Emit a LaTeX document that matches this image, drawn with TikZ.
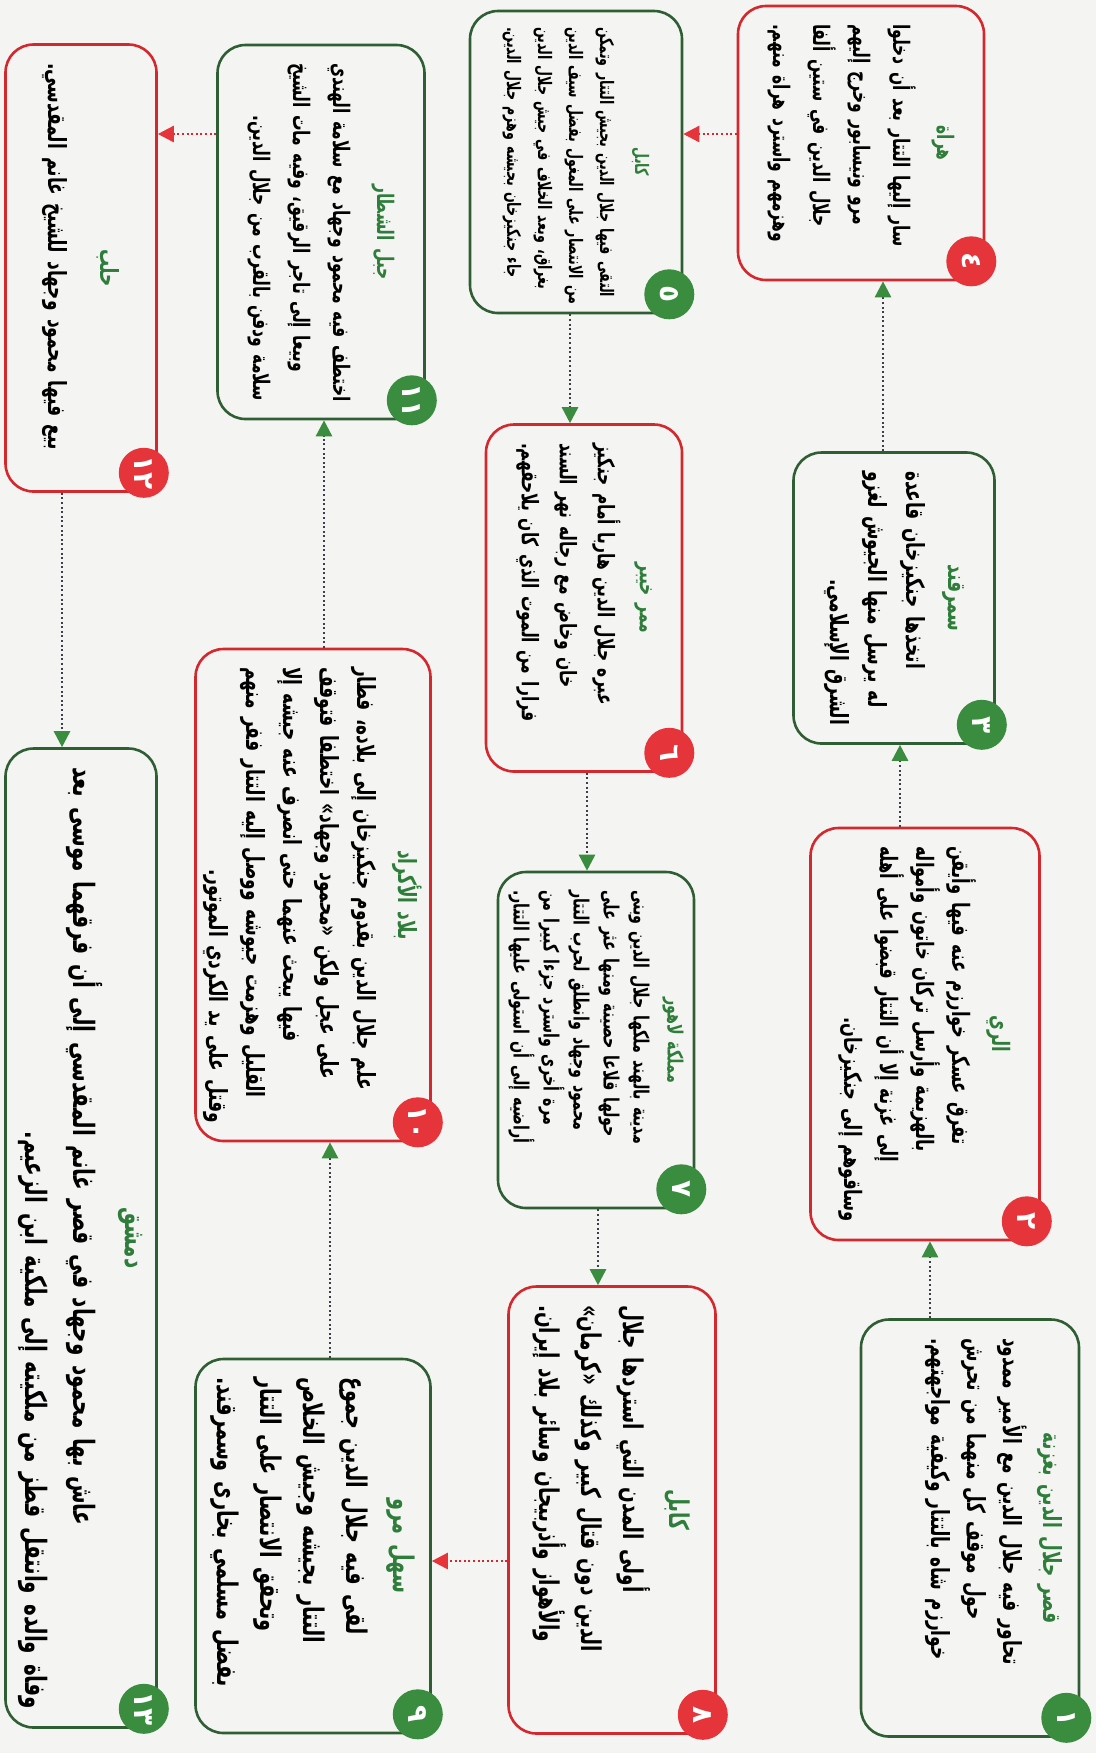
\documentclass[tikz,border=0pt]{standalone}
\usepackage{fontspec}
\usetikzlibrary{arrows.meta,calc}
\TeXXeTstate=1
\newfontfamily\arabicfont[Script=Arabic,FakeStretch=0.68]{DejaVu Sans}
\newfontfamily\numfont[Script=Arabic]{DejaVu Sans}
\definecolor{bordergreen}{HTML}{2F5E34}
\definecolor{borderred}{HTML}{D3282E}
\definecolor{fillgreen}{HTML}{3A8C3F}
\definecolor{fillred}{HTML}{E5343A}
\definecolor{titlegreen}{HTML}{2E7D3A}
\definecolor{dotgray}{HTML}{3C4048}
\definecolor{pagebg}{HTML}{F4F4F2}
\newcommand{\fs}[2]{\arabicfont\bfseries\fontsize{#1}{#2}\selectfont\spaceskip=.3em plus 4em minus .12em\relax}
\newcommand{\TT}[1]{\hbox to\hsize{\hfil\color{titlegreen}\beginR #1\endR\hfil}\vskip 2pt}
\newcommand{\JL}[1]{\hbox to\hsize{\beginR #1\endR}}
\newcommand{\LL}[1]{\hbox to\hsize{\hfil\beginR #1\endR}}
\newcommand{\BotSpace}[1]{\vskip #1\hrule height 0pt width 0pt}
\tikzset{
 box/.style={draw, rounded corners=14pt, rotate=-90, line width=1.3pt, inner sep=0pt},
 gbox/.style={box, draw=bordergreen},
 rbox/.style={box, draw=borderred},
 num/.style={circle, rotate=-90, minimum size=25pt, inner sep=0pt, text=white, font=\numfont\bfseries\fontsize{14}{14}\selectfont},
 gnum/.style={num, fill=fillgreen},
 rnum/.style={num, fill=fillred},
 vlink/.style={dotgray, line width=1.3pt, dash pattern=on 1pt off 1.3pt, -{Triangle[length=8pt,width=8pt,color=fillgreen]}},
 hlink/.style={borderred, line width=1.3pt, dash pattern=on 1pt off 1.3pt, -{Triangle[length=8pt,width=8pt,color=fillred]}}
}
\begin{document}
\begin{tikzpicture}[x=0.5pt,y=-0.5pt]
\fill[pagebg] (0,0) rectangle (1096,1753);
\useasboundingbox (0,0) rectangle (1096,1753);

% column 1
\node[gbox, minimum width=208.5pt, minimum height=109pt, text width=190pt, font=\fs{12.5}{18}] (B1) at (970,1528) {%
\TT{قصر جلال الدين بغزنة}
\JL{تحاور فيه جلال الدين مع الأمير ممدود}
\JL{حول موقف كل منهما من تحرش}
\JL{خوارزم شاه بالتتار وكيفية مواجهتهم.}
\BotSpace{24pt}};
\node[rbox, minimum width=206pt, minimum height=114.5pt, text width=188pt, font=\fs{12}{18}] (B2) at (925,1034) {%
\TT{الري}
\JL{تفرق عسكر خوارزم عنه فيها وأيقن}
\JL{بالهزيمة وأرسل تركان خاتون وأمواله}
\JL{إلى غزنة إلا أن التتار قبضوا على أهله}
\LL{وساقوهم إلى جنكيزخان.}};
\node[gbox, minimum width=145.5pt, minimum height=100.5pt, text width=127pt, font=\fs{12.5}{19}] (B3) at (894,598) {%
\TT{سمرقند}
\JL{اتخذها جنكيزخان قاعدة}
\JL{له يرسل منها الجيوش لغزو}
\LL{الشرق الإسلامي.}};
\node[rbox, minimum width=137pt, minimum height=123pt, text width=119pt, font=\fs{11.4}{20}] (B4) at (861,143) {%
\TT{هراة}
\JL{سار إليها التتار بعد أن دخلوا}
\JL{مرو ونيسابور وخرج إليهم}
\JL{جلال الدين في ستين ألفا}
\JL{وهزمهم واسترد هراة منهم.}};

% column 2
\node[gbox, minimum width=151pt, minimum height=106pt, text width=135pt, font=\fs{9.3}{15.5}] (B5) at (576,162) {%
\TT{كابل}
\JL{التقى فيها جلال الدين بجيش التتار وتمكن}
\JL{من الانتصار على المغول بفضل سيف الدين}
\JL{بغراق، وبعد الخلاف في جيش جلال الدين}
\JL{جاء جنكيزخان بجيشه وهزم جلال الدين.}};
\node[rbox, minimum width=173.5pt, minimum height=98pt, text width=155pt, font=\fs{11.4}{19}] (B6) at (584,598) {%
\TT{ممر خيبر}
\JL{عبره جلال الدين هاربا أمام جنكيز}
\JL{خان وخاض مع رجاله نهر السند}
\JL{فرارا من الموت الذي كان يلاحقهم.}};
\node[gbox, minimum width=168pt, minimum height=98pt, text width=150pt, font=\fs{10.5}{15}] (B7) at (596,1040) {%
\TT{مملكة لاهور}
\JL{مدينة بالهند ملكها جلال الدين وبنى}
\JL{حولها قلاعا حصينة ومنها عثر على}
\JL{محمود وجهاد وانطلق لحرب التتار}
\JL{مرة أخرى واسترد جزءا كبيرا من}
\JL{أراضيه إلى أن استولى عليها التتار.}};
\node[rbox, minimum width=223.5pt, minimum height=103.5pt, text width=205pt, font=\fs{13.6}{21}] (B8) at (612,1510) {%
\TT{كابل}
\JL{أولى المدن التي استردها جلال}
\JL{الدين دون قتال كبير وكذلك «كرمان»}
\JL{والأهواز وأذربيجان وسائر بلاد إيران.}};

% column 3
\node[gbox, minimum width=187pt, minimum height=117.5pt, text width=169pt, font=\fs{14.2}{21.5}] (B9) at (313,1546) {%
\TT{سهل مرو}
\JL{لقى فيه جلال الدين جموع}
\JL{التتار بجيشه وجيش الخلاص}
\JL{وتحقق الانتصار على التتار}
\JL{بفضل مسلمي بخارى وسمرقند.}};
\node[rbox, minimum width=246pt, minimum height=117.5pt, text width=228pt, font=\fs{12.5}{18.5}] (B10) at (313,895) {%
\TT{بلاد الأكراد}
\JL{علم جلال الدين بقدوم جنكيزخان إلى بلاده، فطار}
\JL{على عجل ولكن «محمود وجهاد» اختطفا فتوقف}
\JL{فيها يبحث عنهما حتى انصرف عنه جيشه إلا}
\JL{القليل وهزمت جيوشه ووصل إليه التتار ففر منهم}
\LL{وقتل على يد الكردي الموتور.}};
\node[gbox, minimum width=187pt, minimum height=103.5pt, text width=169pt, font=\fs{11.4}{20}] (B11) at (321,232) {%
\TT{جبل الشطار}
\JL{اختطف فيه محمود وجهاد مع سلامة الهندي}
\JL{وبيعا إلى تاجر الرقيق، وفيه مات الشيخ}
\LL{سلامة ودفن بالقرب من جلال الدين.}};

% column 4
\node[rbox, minimum width=223.5pt, minimum height=75.5pt, text width=205pt, font=\fs{12.5}{24}] (B12) at (81,268) {%
\TT{حلب}
\JL{بيع فيها محمود وجهاد للشيخ غانم المقدسي.}};
\node[gbox, minimum width=489.5pt, minimum height=75.5pt, text width=471pt, font=\fs{14.7}{24}] (B13) at (81,1238) {%
\TT{دمشق}
\JL{عاش بها محمود وجهاد في قصر غانم المقدسي إلى أن فرقهما موسى بعد}
\LL{وفاة والده وانتقل قطز من ملكيته إلى ملكية ابن الزعيم.}};

% number circles
\node[gnum] (N1) at ($(B1.north east)+(-14,-20)$) {١};
\node[rnum] (N2) at ($(B2.north east)+(-14,-20)$) {٢};
\node[gnum] (N3) at ($(B3.north east)+(-14,-20)$) {٣};
\node[rnum] (N4) at ($(B4.north east)+(-14,-20)$) {٤};
\node[gnum] (N5) at ($(B5.north east)+(-14,-20)$) {٥};
\node[rnum] (N6) at ($(B6.north east)+(-14,-20)$) {٦};
\node[gnum] (N7) at ($(B7.north east)+(-14,-20)$) {٧};
\node[rnum] (N8) at ($(B8.north east)+(-14,-20)$) {٨};
\node[gnum] (N9) at ($(B9.north east)+(-14,-20)$) {٩};
\node[rnum] (N10) at ($(B10.north east)+(-14,-20)$) {١٠};
\node[gnum] (N11) at ($(B11.north east)+(-14,-20)$) {١١};
\node[rnum] (N12) at ($(B12.north east)+(-14,-20)$) {١٢};
\node[gnum] (N13) at ($(B13.north east)+(-14,-20)$) {١٣};

% connector guide coordinates
\coordinate (v12) at (930,0);
\coordinate (v23) at (900,0);
\coordinate (v34) at (883,0);
\coordinate (h45) at (0,134);
\coordinate (v56) at (570,0);
\coordinate (v67) at (587,0);
\coordinate (v78) at (598,0);
\coordinate (h89) at (0,1561);
\coordinate (v910) at (330,0);
\coordinate (v1011) at (324,0);
\coordinate (h1112) at (0,134);
\coordinate (v1213) at (62,0);

% connectors
\draw[vlink] (v12 |- B1.west) -- (v12 |- B2.east);
\draw[vlink] (v23 |- B2.west) -- (v23 |- B3.east);
\draw[vlink] (v34 |- B3.west) -- (v34 |- B4.east);
\draw[hlink] (B4.south |- h45) -- (B5.north |- h45);
\draw[vlink] (v56 |- B5.east) -- (v56 |- B6.west);
\draw[vlink] (v67 |- B6.east) -- (v67 |- B7.west);
\draw[vlink] (v78 |- B7.east) -- (v78 |- B8.west);
\draw[hlink] (B8.south |- h89) -- (B9.north |- h89);
\draw[vlink] (v910 |- B9.west) -- (v910 |- B10.east);
\draw[vlink] (v1011 |- B10.west) -- (v1011 |- B11.east);
\draw[hlink] (B11.south |- h1112) -- (B12.north |- h1112);
\draw[vlink] (v1213 |- B12.east) -- (v1213 |- B13.west);
\end{tikzpicture}
\end{document}
